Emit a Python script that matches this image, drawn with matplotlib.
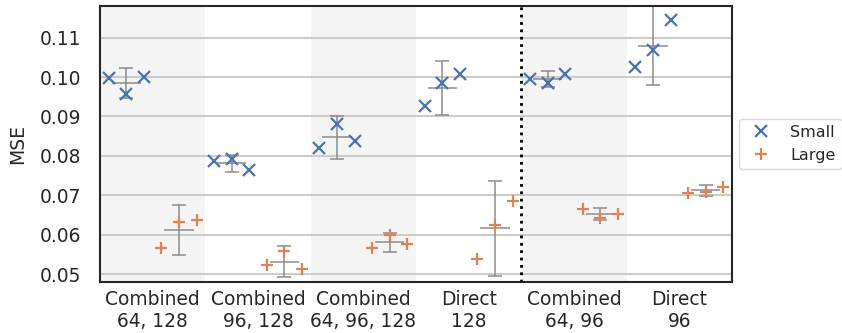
import matplotlib
matplotlib.use("Agg")
from matplotlib import pyplot as plt
import numpy as np

groups = ["Combined\n64, 128", "Combined\n96, 128", "Combined\n64, 96, 128",
          "Direct\n128", "Combined\n64, 96", "Direct\n96"]

# three runs per group
small_runs = [
    [0.0997, 0.0957, 0.1000],
    [0.0787, 0.0791, 0.0764],
    [0.0821, 0.0882, 0.0838],
    [0.0926, 0.0984, 0.1007],
    [0.0994, 0.0984, 0.1009],
    [0.1025, 0.1069, 0.1146],
]
large_runs = [
    [0.0567, 0.0631, 0.0637],
    [0.0524, 0.0559, 0.0512],
    [0.0567, 0.0599, 0.0576],
    [0.0539, 0.0624, 0.0685],
    [0.0665, 0.0641, 0.0652],
    [0.0706, 0.0709, 0.0722],
]
small_err = [0.0038, 0.0022, 0.0054, 0.0069, 0.0021, 0.0100]
large_err = [0.0064, 0.0039, 0.0024, 0.0120, 0.0016, 0.0013]

blue = "#4c72b0"
orange = "#dd8452"
grey = "#8c8c8c"

fig = plt.figure(figsize=(8.42, 3.33), dpi=100)
ax = fig.add_axes([100 / 842, 51 / 333, 632 / 842, 276 / 333])

x = np.arange(len(groups))
small_offs = np.array([-5, -3, -1]) / 12
large_offs = np.array([1, 3, 5]) / 12

for i in range(0, len(groups), 2):
    ax.axvspan(i - 0.5, i + 0.5, color="#f4f4f4", zorder=0, lw=0)

for runs, err, offs, col, mk, lab in [
        (small_runs, small_err, small_offs, blue, "x", "Small"),
        (large_runs, large_err, large_offs, orange, "+", "Large")]:
    runs = np.array(runs)
    xs = x[:, None] + offs[None, :]
    ax.plot(xs.ravel(), runs.ravel(), ls="none", marker=mk, color=col,
            ms=9, mew=1.6, zorder=3, label=lab)
    xc = x + offs[1]
    m = runs.mean(axis=1)
    ax.errorbar(xc, m, yerr=err, fmt="none", ecolor=grey, elinewidth=1.1,
                capsize=5, capthick=1.1, zorder=2)
    ax.hlines(m, xc - 0.14, xc + 0.14, color=grey, lw=1.1, zorder=2)

ax.axvline(3.5, color="black", ls=":", lw=2, zorder=4)

ax.set_xlim(-0.5, 5.5)
ax.set_ylim(0.04797, 0.11805)
ax.set_yticks([0.05, 0.06, 0.07, 0.08, 0.09, 0.10, 0.11])
ax.set_yticklabels(["0.05", "0.06", "0.07", "0.08", "0.09", "0.10", "0.11"])
ax.set_xticks(x)
ax.set_xticklabels(groups, linespacing=1.15)
ax.tick_params(axis="both", length=0, labelsize=13.4, labelcolor="#262626")
ax.tick_params(axis="y", pad=13.5)
ax.tick_params(axis="x", pad=6)
ax.set_ylabel("MSE", fontsize=13.5, color="#262626", labelpad=9)

ax.set_axisbelow(True)
ax.yaxis.grid(True, color="#cccccc", lw=1.5)
for s in ax.spines.values():
    s.set_color("#262626")
    s.set_linewidth(1.5)

leg = ax.legend(loc="center left", bbox_to_anchor=(1.011, 0.5), borderaxespad=0,
                fontsize=11.5, frameon=True, fancybox=True)
leg.get_frame().set_edgecolor("#d0d0d0")
for t in leg.get_texts():
    t.set_color("#262626")

fig.savefig("out.png", dpi=100)
